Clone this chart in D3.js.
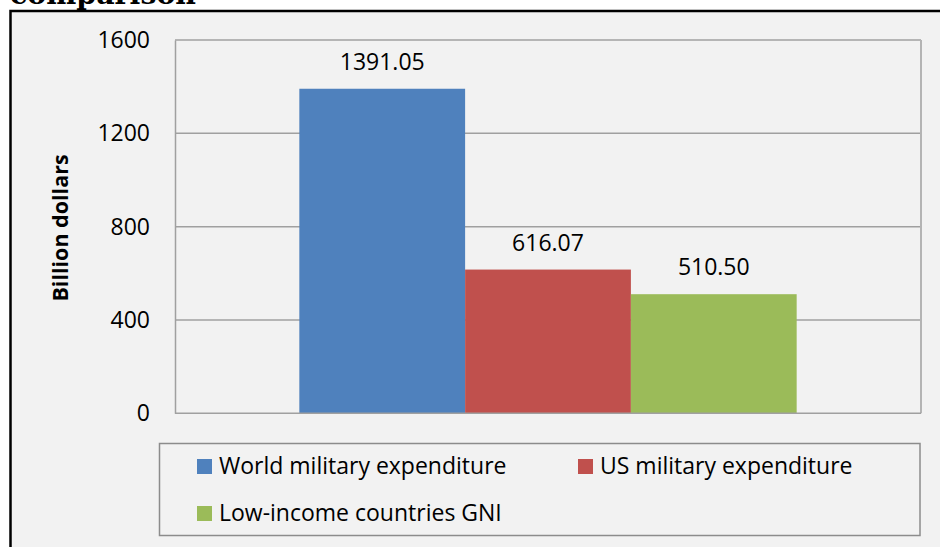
<!DOCTYPE html>
<html>
<head>
<meta charset="utf-8">
<script src="https://cdn.jsdelivr.net/npm/d3@7"></script>
<style>
  body { margin: 0; background: #fff; }
  svg { display: block; }
  text { font-family: "Open Sans", sans-serif; fill: #000; }
</style>
</head>
<body>
<div id="container"></div>
<script>
/* DATA */
const series = ["World military expenditure", "US military expenditure", "Low-income countries GNI"];
const values = [1391.05, 616.07, 510.50];
const colors = ["#4f81bd", "#c0504d", "#9bbb59"];
const yTicks = [0, 400, 800, 1200, 1600];

/* CONSTANTS */
const width = 940,
  height = 547,
  plot = { left: 175, right: 921, top: 40, bottom: 413.3 };

const svg = d3.select("#container")
  .append("svg")
  .attr("width", width)
  .attr("height", height);

// chart background and border (right/bottom edges run off the page)
svg.append("rect")
  .attr("x", 10.5).attr("y", 11)
  .attr("width", 960).attr("height", 560)
  .attr("fill", "#f2f2f2")
  .attr("stroke", "#000")
  .attr("stroke-width", 2.5);

// title, cut off at the top
svg.append("text")
  .attr("x", 10)
  .attr("y", 4)
  .attr("textLength", 186)
  .attr("lengthAdjust", "spacingAndGlyphs")
  .style("font-family", "'DejaVu Serif', serif")
  .style("font-weight", "bold")
  .style("font-size", "28px")
  .text("comparison");

/* SCALES */
const xScale = d3.scaleBand()
  .domain(series)
  .range([plot.left, plot.right])
  .paddingInner(0)
  .paddingOuter(0.75);

const yScale = d3.scaleLinear()
  .domain([0, 1600])
  .range([plot.bottom, plot.top]);

// gridlines
svg.append("g")
  .selectAll("line")
  .data(yTicks.slice(1))
  .join("line")
  .attr("x1", plot.left).attr("x2", plot.right)
  .attr("y1", d => yScale(d)).attr("y2", d => yScale(d))
  .attr("stroke", "#a0a0a0")
  .attr("stroke-width", 1.5);

// plot area right border
svg.append("line")
  .attr("x1", plot.right).attr("x2", plot.right)
  .attr("y1", plot.top).attr("y2", plot.bottom)
  .attr("stroke", "#b4b4b4")
  .attr("stroke-width", 2);

// bars
svg.selectAll("rect.bar")
  .data(values)
  .join("rect")
  .attr("class", "bar")
  .attr("x", (d, i) => xScale(series[i]))
  .attr("width", xScale.bandwidth())
  .attr("y", d => yScale(d))
  .attr("height", d => yScale(0) - yScale(d))
  .attr("fill", (d, i) => colors[i]);

// data labels
svg.selectAll("text.label")
  .data(values)
  .join("text")
  .attr("class", "label")
  .attr("x", (d, i) => xScale(series[i]) + xScale.bandwidth() / 2)
  .attr("y", d => yScale(d) - 19)
  .attr("text-anchor", "middle")
  .style("font-size", "23px")
  .text(d => d.toFixed(2));

// y axis
const yAxis = svg.append("g")
  .attr("transform", `translate(${plot.left}, 0)`)
  .call(d3.axisLeft(yScale).tickValues(yTicks).tickFormat(d3.format("d")).tickSize(0).tickPadding(25));
yAxis.select(".domain").attr("stroke", "#a0a0a0").attr("stroke-width", 1.5);
yAxis.selectAll("text")
  .style("font-family", "'Open Sans', sans-serif")
  .style("font-size", "23px")
  .attr("fill", "#000");

// x axis baseline
svg.append("line")
  .attr("x1", plot.left).attr("x2", plot.right)
  .attr("y1", plot.bottom).attr("y2", plot.bottom)
  .attr("stroke", "#a0a0a0")
  .attr("stroke-width", 1.5);

// y axis title
svg.append("text")
  .attr("transform", "translate(68, 228) rotate(-90)")
  .attr("text-anchor", "middle")
  .style("font-weight", "bold")
  .style("font-size", "21.5px")
  .text("Billion dollars");

// legend
svg.append("rect")
  .attr("x", 159.5).attr("y", 443.5)
  .attr("width", 760.5).attr("height", 92)
  .attr("fill", "none")
  .attr("stroke", "#8c8c8c")
  .attr("stroke-width", 1.5);

const legendPos = [[197, 459], [578, 459], [197, 506]];
const legend = svg.selectAll("g.legend")
  .data(series)
  .join("g")
  .attr("class", "legend")
  .attr("transform", (d, i) => `translate(${legendPos[i][0]}, ${legendPos[i][1]})`);

legend.append("rect")
  .attr("width", 15).attr("height", 15)
  .attr("fill", (d, i) => colors[i]);

legend.append("text")
  .attr("x", 22)
  .attr("y", 15)
  .style("font-size", "23px")
  .text(d => d);
</script>
</body>
</html>
